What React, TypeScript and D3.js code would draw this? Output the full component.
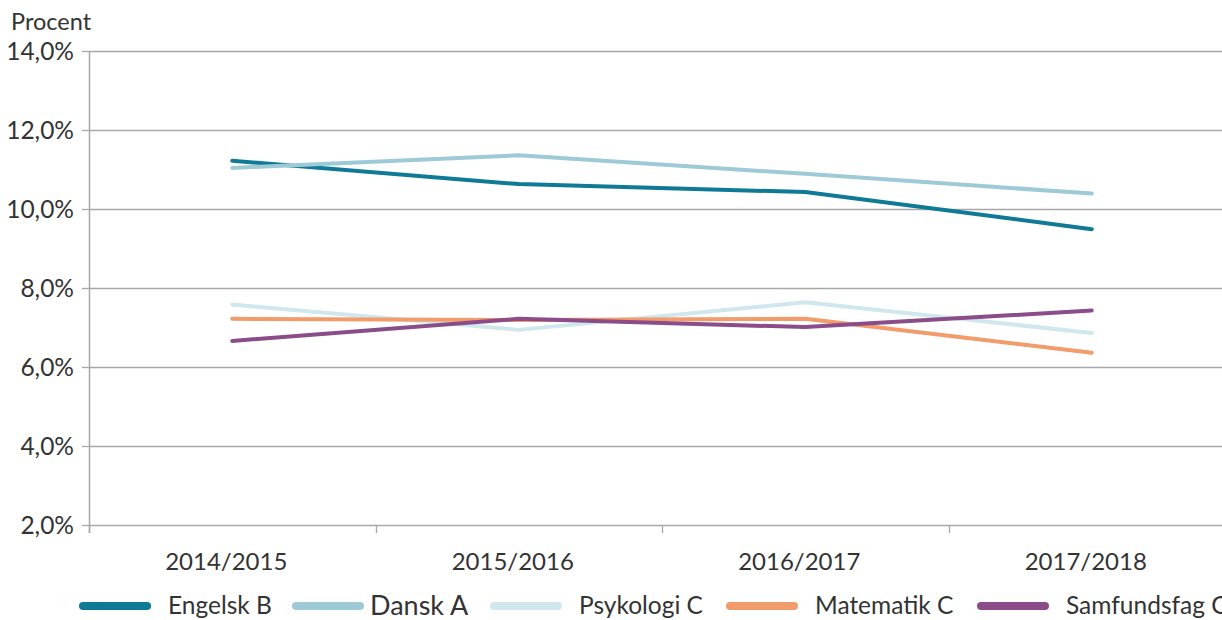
import React, { useEffect, useRef } from "react";
import * as d3 from "d3";

const categories = ["2014/2015", "2015/2016", "2016/2017", "2017/2018"];
const seriesNames = ["Engelsk B", "Dansk A", "Psykologi C", "Matematik C", "Samfundsfag C"];
const engelskB = [11.22, 10.63, 10.43, 9.49];
const danskA = [11.04, 11.36, 10.89, 10.39];
const psykologiC = [7.58, 6.94, 7.64, 6.86];
const matematikC = [7.22, 7.19, 7.22, 6.36];
const samfundsfagC = [6.66, 7.22, 7.01, 7.43];
const colors = ["#0f7a96", "#9dcad6", "#cfe7ed", "#f29b6b", "#8b4c8a"];
const yTicks = [2, 4, 6, 8, 10, 12, 14];
const legendX = [79, 292, 490, 726, 977];

export default function App() {
  const ref = useRef<SVGSVGElement>(null);
  useEffect(() => {
    document.body.style.margin = "0";
    const svg = d3.select(ref.current);
    svg.selectAll("*").remove();
    const values = [engelskB, danskA, psykologiC, matematikC, samfundsfagC];
    const left = 89, top = 51, bottom = 525;
    const bandW = 286.5;
    const x = d3.scaleBand<string>().domain(categories).range([left, left + bandW * categories.length]);
    const y = d3.scaleLinear().domain([2, 14]).range([bottom, top]);
    const font = "Lato, 'Open Sans', sans-serif";

    svg.append("g").selectAll("line").data(yTicks).join("line")
      .attr("x1", left).attr("x2", 1222)
      .attr("y1", d => Math.round(y(d)) + 0.5).attr("y2", d => Math.round(y(d)) + 0.5)
      .attr("stroke", "#a8a8a8").attr("stroke-width", 1.3);
    svg.append("g").selectAll("line").data(yTicks).join("line")
      .attr("x1", left - 7).attr("x2", left)
      .attr("y1", d => Math.round(y(d)) + 0.5).attr("y2", d => Math.round(y(d)) + 0.5)
      .attr("stroke", "#a8a8a8").attr("stroke-width", 1.3);
    svg.append("line").attr("x1", left + 0.5).attr("x2", left + 0.5)
      .attr("y1", top).attr("y2", bottom + 8).attr("stroke", "#a8a8a8").attr("stroke-width", 1.5);
    svg.append("g").selectAll("line").data(categories).join("line")
      .attr("x1", d => Math.round(x(d)!) + 0.5).attr("x2", d => Math.round(x(d)!) + 0.5)
      .attr("y1", bottom).attr("y2", bottom + 8)
      .attr("stroke", "#a8a8a8").attr("stroke-width", 1.3);

    svg.append("g").selectAll("text").data(yTicks).join("text")
      .attr("x", left - 15).attr("y", d => y(d) + 8.5)
      .attr("text-anchor", "end").attr("font-family", font).attr("font-size", 24.5).attr("fill", "#333")
      .text(d => d3.format(".1f")(d).replace(".", ",") + "%");
    svg.append("text").attr("x", 11).attr("y", 30).attr("font-family", font).attr("font-size", 23.5).attr("fill", "#333").text("Procent");

    svg.append("g").selectAll("text").data(categories).join("text")
      .attr("x", d => x(d)! + x.bandwidth() / 2 - 6).attr("y", 570)
      .attr("text-anchor", "middle").attr("font-family", font).attr("font-size", 24).attr("fill", "#333")
      .text(d => d);

    const line = d3.line<number>().x((_, i) => x(categories[i])! + x.bandwidth() / 2).y(d => y(d));
    values.forEach((v, i) => {
      svg.append("path").attr("d", line(v)!).attr("fill", "none").attr("stroke", colors[i])
        .attr("stroke-width", 4).attr("stroke-linecap", "round").attr("stroke-linejoin", "round");
    });

    const lg = svg.append("g");
    seriesNames.forEach((n, i) => {
      lg.append("line").attr("x1", legendX[i] + 4).attr("x2", legendX[i] + 68).attr("y1", 606).attr("y2", 606)
        .attr("stroke", colors[i]).attr("stroke-width", 8).attr("stroke-linecap", "round");
      lg.append("text").attr("x", legendX[i] + (i === 1 ? 78 : 89)).attr("y", i === 1 ? 615 : 614)
        .attr("font-family", font).attr("font-size", i === 1 ? 27 : 24.5).attr("fill", "#333").text(n);
    });
  }, []);
  return <svg ref={ref} width={1222} height={620} style={{ display: "block", background: "#fff" }} />;
}
